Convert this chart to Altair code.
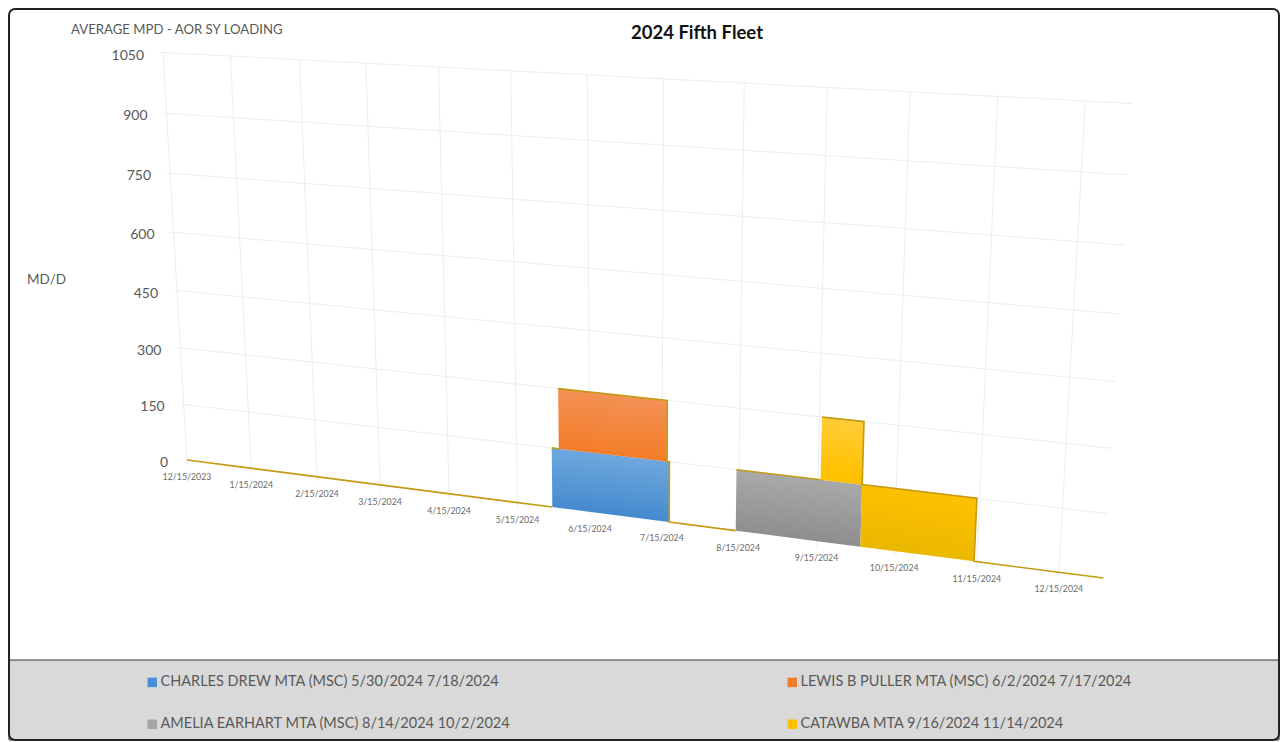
import altair as alt
import numpy as np
import pandas as pd

# ---- chart values
SERIES = ["CHARLES DREW MTA (MSC) 5/30/2024 7/18/2024",
          "LEWIS B PULLER MTA (MSC) 6/2/2024 7/17/2024",
          "AMELIA EARHART MTA (MSC) 8/14/2024 10/2/2024",
          "CATAWBA MTA 9/16/2024 11/14/2024"]
STARTS = ["2024-05-30", "2024-06-02", "2024-08-14", "2024-09-16"]
ENDS = ["2024-07-18", "2024-07-17", "2024-10-02", "2024-11-14"]
LOADS = [150, 150, 150, 150]
COLORS = ["#4A90D9", "#F47B2A", "#A5A5A5", "#FFC000"]
STOPS = [[("0", "#74ABE0"), ("1", "#3F86CC")],
         [("0", "#F3935A"), ("1", "#F47A22")],
         [("0", "#ADADAD"), ("1", "#8A8A8A")],
         [("0", "#FFCE4A"), ("0.45", "#FFC200"), ("1", "#E8B500")]]
Y_TICKS = [0, 150, 300, 450, 600, 750, 900, 1050]
X_TICKS = ["12/15/2023", "1/15/2024", "2/15/2024", "3/15/2024", "4/15/2024", "5/15/2024", "6/15/2024",
           "7/15/2024", "8/15/2024", "9/15/2024", "10/15/2024", "11/15/2024", "12/15/2024"]
AXIS_START = "2023-12-15"
AXIS_END = "2024-12-31"
Y_MAX = 1050

W, H = 1272, 733
ORIGIN = 8  # page margin


def day(s):
    return (pd.Timestamp(s) - pd.Timestamp(AXIS_START)).days


# the perspective of the tilted 3-D plot: plot-plane corners -> screen
U_MAX = day(AXIS_END)
src = [(0, 0), (0, Y_MAX), (U_MAX, 0), (U_MAX, Y_MAX)]
dst = [(187, 460), (163, 52.5), (1103.5, 578), (1133, 103.5)]
A, b = [], []
for (u, v), (px, py) in zip(src, dst):
    A.append([u, v, 1, 0, 0, 0, -u * px, -v * px]); b.append(px)
    A.append([0, 0, 0, u, v, 1, -u * py, -v * py]); b.append(py)
M = np.append(np.linalg.solve(np.array(A, float), np.array(b, float)), 1).reshape(3, 3)


def project(u, v):
    x, y, w = M @ np.array([u, v, 1.0])
    return x / w - ORIGIN, y / w - ORIGIN


def frame(points, **extra):
    rows = []
    for i, (u, v) in enumerate(points):
        x, y = project(u, v)
        rows.append({"px": x, "py": y, "k": i, "value": v, **extra})
    return pd.DataFrame(rows)


X = alt.X("px:Q", scale=alt.Scale(domain=[0, W], range=[0, W], nice=False, zero=False), axis=None)
Y = alt.Y("py:Q", scale=alt.Scale(domain=[0, H], range=[0, H], nice=False, zero=False), axis=None)

# stacking
s_days = [day(s) for s in STARTS]
e_days = [day(s) for s in ENDS]
breaks = sorted(set(s_days + e_days))


def level(i, a):
    """stack height below and including series i on the interval starting at a"""
    return sum(LOADS[j] for j in range(i + 1) if s_days[j] <= a < e_days[j])


layers = []
# legend panel
panel = pd.DataFrame({"px": [1.0], "px2": [W - 1.0], "py": [652.0], "py2": [H - 1.0]})
layers.append(alt.Chart(panel).mark_rect(fill="#D9D9D9", stroke="#333333", strokeWidth=1).encode(
    x=X, x2="px2:Q", y=Y, y2="py2:Q"))

# grid
grid = []
for v in Y_TICKS[1:]:
    grid.append(frame([(-1.5, v), (U_MAX, v)], g=f"h{v}"))
for t in X_TICKS:
    u = day(pd.to_datetime(t))
    grid.append(frame([(u, -14), (u, Y_MAX)], g=f"v{t}"))
layers.append(alt.Chart(pd.concat(grid)).mark_line(color="#EDEDED", strokeWidth=1).encode(
    x=X, y=Y, detail="g:N", order="k:Q"))

# stacked areas
for i, name in enumerate(SERIES):
    spans = [(a, c) for a, c in zip(breaks[:-1], breaks[1:]) if s_days[i] <= a < e_days[i]]
    top, bottom = [], []
    for a, c in spans:
        top += [(a, level(i, a)), (c, level(i, a))]
        bottom += [(a, level(i, a) - LOADS[i]), (c, level(i, a) - LOADS[i])]
    poly = frame(top + bottom[::-1], series=name)
    grad = alt.LinearGradient(gradient="linear", x1=0.59, y1=0, x2=0.41, y2=1,
                              stops=[alt.GradientStop(offset=float(o), color=c) for o, c in STOPS[i]])
    layers.append(alt.Chart(poly).mark_line(fill=grad, stroke="transparent", strokeWidth=0).encode(
        x=X, y=Y, order="k:Q"))

# gold outline of the stack top along the whole axis; rising edges are not outlined
runs, run, last = [], [(0, 0)], 0
for a, c in zip(breaks[:-1], breaks[1:]):
    lv = level(len(SERIES) - 1, a)
    if lv > last:
        run.append((a, last))
        runs.append(run)
        run = []
    run += [(a, lv), (c, lv)]
    last = lv
run += [(breaks[-1], 0), (U_MAX, 0)]
runs.append(run)
outline = pd.concat([frame(r, seg=n) for n, r in enumerate(runs)])
layers.append(alt.Chart(outline).mark_line(color="#C39A12", strokeWidth=1.6).encode(
    x=X, y=Y, detail="seg:N", order="k:Q"))

# outer frame
box = pd.DataFrame({"px": [1.0], "px2": [W - 1.0], "py": [1.0], "py2": [H - 1.0]})
layers.append(alt.Chart(box).mark_rect(fill="transparent", stroke="#222222", strokeWidth=2, cornerRadius=6).encode(
    x=X, x2="px2:Q", y=Y, y2="py2:Q"))

# tick labels
ylab = frame([(0, v) for v in Y_TICKS])
layers.append(alt.Chart(ylab).mark_text(font="Lato", fontSize=14, color="#595959", align="right", dx=-19, dy=3).encode(
    x=X, y=Y, text="value:Q"))
xlab = pd.concat([frame([(day(pd.to_datetime(t)), 0)], label=t) for t in X_TICKS])
layers.append(alt.Chart(xlab).mark_text(font="Lato", fontSize=8.8, color="#6A6A6A", align="center", dy=17).encode(
    x=X, y=Y, text="label:N"))


# titles
def note(text, x, y, **kw):
    d = pd.DataFrame({"px": [x - ORIGIN], "py": [y - ORIGIN], "t": [text]})
    return alt.Chart(d).mark_text(font="Lato", **kw).encode(x=X, y=Y, text="t:N")


layers.append(note("2024 Fifth Fleet", 697, 33, fontSize=18.5, fontWeight="bold", color="#111111", align="center"))
layers.append(note("AVERAGE MPD - AOR SY LOADING", 71, 30, fontSize=13.2, color="#595959", align="left"))
layers.append(note("MD/D", 27, 280, fontSize=13.5, color="#595959", align="left"))

# legend: filled column by column, so two-by-two reads across as in the source
LEGEND_ORDER = [0, 2, 1, 3]
key = pd.DataFrame({"series": SERIES, "px": [0.0] * 4, "py": [0.0] * 4})
layers.append(alt.Chart(key).mark_square(opacity=0, size=1).encode(
    x=X, y=Y,
    color=alt.Color("series:N",
                    scale=alt.Scale(domain=[SERIES[i] for i in LEGEND_ORDER],
                                    range=[COLORS[i] for i in LEGEND_ORDER]),
                    legend=alt.Legend(orient="none", legendX=137, legendY=667, columns=2, title=None,
                                      symbolType="square", symbolSize=90, symbolOpacity=1, symbolStrokeWidth=0,
                                      labelFont="Lato", labelFontSize=14.5, labelColor="#595959", labelLimit=0,
                                      columnPadding=273, rowPadding=27, labelOffset=1))))

chart = alt.layer(*layers).properties(
    width=W, height=H, padding=0, background="white",
    autosize=alt.AutoSizeParams(type="none")
).configure_view(stroke=None)

chart.save("out.html", embed_options={"renderer": "svg", "actions": False})
